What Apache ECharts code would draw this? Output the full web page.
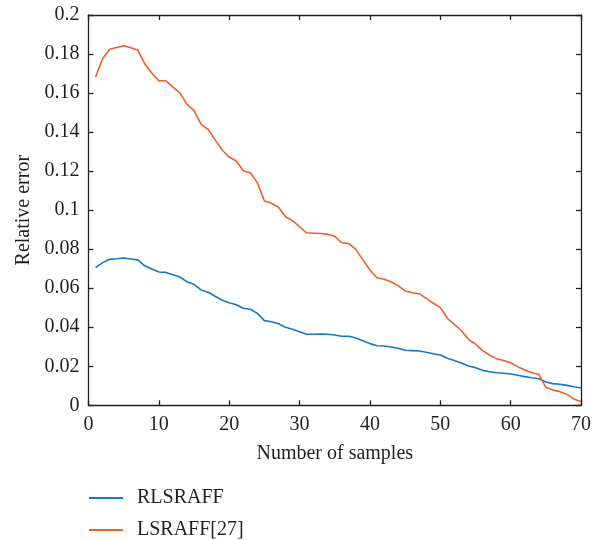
<!DOCTYPE html>
<html>
<head>
<meta charset="utf-8">
<script src="https://cdn.jsdelivr.net/npm/echarts@6/dist/echarts.min.js"></script>
<style>
  html, body { margin: 0; padding: 0; background: #ffffff; }
  #chart { width: 594px; height: 540px; }
</style>
</head>
<body>
<div id="chart"></div>
<script>
// Number of samples (x) and relative error of each method
const samples = [1, 2, 3, 4, 5, 6, 7, 8, 9, 10, 11, 12, 13, 14, 15, 16, 17, 18, 19, 20,
  21, 22, 23, 24, 25, 26, 27, 28, 29, 30, 31, 32, 33, 34, 35, 36, 37, 38, 39, 40,
  41, 42, 43, 44, 45, 46, 47, 48, 49, 50, 51, 52, 53, 54, 55, 56, 57, 58, 59, 60,
  61, 62, 63, 64, 65, 66, 67, 68, 69, 70];

const rlsraff = [0.0705, 0.0731, 0.0748, 0.0751, 0.0755, 0.0750, 0.0745, 0.0715, 0.0698, 0.0683,
  0.0681, 0.0669, 0.0657, 0.0633, 0.0620, 0.0591, 0.0579, 0.0559, 0.0538, 0.0526,
  0.0515, 0.0497, 0.0492, 0.0471, 0.0434, 0.0428, 0.0418, 0.0400, 0.0390, 0.0377,
  0.0364, 0.0364, 0.0365, 0.0364, 0.0360, 0.0354, 0.0354, 0.0345, 0.0331, 0.0316,
  0.0305, 0.0304, 0.0299, 0.0292, 0.0282, 0.0280, 0.0278, 0.0272, 0.0264, 0.0258,
  0.0241, 0.0230, 0.0217, 0.0201, 0.0193, 0.0179, 0.0172, 0.0167, 0.0164, 0.0160,
  0.0154, 0.0147, 0.0141, 0.0136, 0.0119, 0.0111, 0.0108, 0.0102, 0.0095, 0.0089];

const lsraff = [0.1681, 0.1776, 0.1824, 0.1833, 0.1842, 0.1832, 0.1821, 0.1750, 0.1702, 0.1663,
  0.1663, 0.1630, 0.1601, 0.1542, 0.1511, 0.1440, 0.1414, 0.1360, 0.1308, 0.1272,
  0.1252, 0.1202, 0.1192, 0.1141, 0.1047, 0.1035, 0.1015, 0.0966, 0.0946, 0.0915,
  0.0884, 0.0882, 0.0880, 0.0876, 0.0866, 0.0833, 0.0829, 0.0799, 0.0745, 0.0693,
  0.0654, 0.0646, 0.0633, 0.0613, 0.0586, 0.0577, 0.0572, 0.0548, 0.0523, 0.0502,
  0.0446, 0.0415, 0.0382, 0.0338, 0.0314, 0.0280, 0.0258, 0.0239, 0.0230, 0.0218,
  0.0198, 0.0181, 0.0167, 0.0159, 0.0092, 0.0078, 0.0070, 0.0056, 0.0032, 0.0018];

const seriesNames = ['RLSRAFF', 'LSRAFF[27]'];
const xTicks = [0, 10, 20, 30, 40, 50, 60, 70];
const yTicks = [0, 0.02, 0.04, 0.06, 0.08, 0.1, 0.12, 0.14, 0.16, 0.18, 0.2];

const BLUE = '#1479c6';
const ORANGE = '#ef5f2a';
const INK = '#231f20';
const FONT = 'Liberation Serif';

const pair = (xs, ys) => xs.map((x, i) => [x, ys[i]]);

// shared look of the four sides of the axes box
const frameAxis = () => ({
  axisLine: { show: true, onZero: false, lineStyle: { color: INK, width: 1.3 } },
  axisTick: { show: true, inside: true, length: 5, lineStyle: { color: INK, width: 1.3 } },
  splitLine: { show: false }
});

const legendItem = (name, top) => ({
  data: [{ name: name, icon: 'rect' }],
  orient: 'vertical', left: 89, top: top, padding: 0,
  itemWidth: 34, itemHeight: 2,
  textStyle: { fontFamily: FONT, fontSize: 20, color: INK, padding: [0, 0, 0, 9], lineHeight: 20 }
});

const chart = echarts.init(document.getElementById('chart'), null, { renderer: 'canvas' });

chart.setOption({
  backgroundColor: '#ffffff',
  animation: false,
  textStyle: { fontFamily: FONT, color: INK },
  grid: { left: 88.5, right: 10.7, top: 15, bottom: 134.7, containLabel: false },
  legend: [legendItem(seriesNames[0], 488), legendItem(seriesNames[1], 520)],
  xAxis: [
    Object.assign({
      type: 'value', min: xTicks[0], max: xTicks[xTicks.length - 1], interval: 10,
      position: 'bottom',
      name: 'Number of samples', nameLocation: 'middle', nameGap: 38,
      nameTextStyle: { fontFamily: FONT, fontSize: 20, color: INK },
      axisLabel: { fontFamily: FONT, fontSize: 20, color: INK, margin: 9 }
    }, frameAxis()),
    Object.assign({
      type: 'value', min: xTicks[0], max: xTicks[xTicks.length - 1], interval: 10,
      position: 'top', axisLabel: { show: false }
    }, frameAxis())
  ],
  yAxis: [
    Object.assign({
      type: 'value', min: yTicks[0], max: yTicks[yTicks.length - 1], interval: 0.02,
      position: 'left',
      name: 'Relative error', nameLocation: 'middle', nameGap: 55,
      nameTextStyle: { fontFamily: FONT, fontSize: 20, color: INK },
      axisLabel: { fontFamily: FONT, fontSize: 20, color: INK, margin: 9 }
    }, frameAxis()),
    Object.assign({
      type: 'value', min: yTicks[0], max: yTicks[yTicks.length - 1], interval: 0.02,
      position: 'right', axisLabel: { show: false }
    }, frameAxis())
  ],
  series: [
    {
      name: seriesNames[0], type: 'line', data: pair(samples, rlsraff),
      showSymbol: false, symbol: 'none', color: BLUE,
      lineStyle: { color: BLUE, width: 1.6 }
    },
    {
      name: seriesNames[1], type: 'line', data: pair(samples, lsraff),
      showSymbol: false, symbol: 'none', color: ORANGE,
      lineStyle: { color: ORANGE, width: 1.6 }
    }
  ]
});
</script>
</body>
</html>
